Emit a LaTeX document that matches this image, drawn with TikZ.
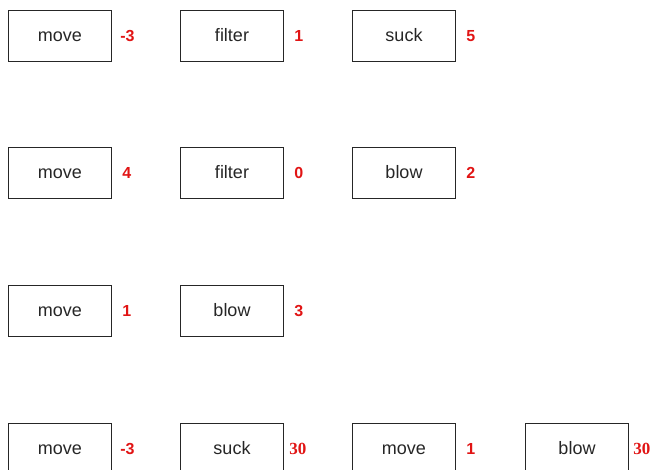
\documentclass[tikz,border=0pt]{standalone}
\usepackage{fontspec}
\setmainfont{Liberation Sans}
\newfontfamily\serifbold{Liberation Serif}
\definecolor{lblred}{RGB}{225,20,20}
\begin{document}
\begin{tikzpicture}[x=1pt,y=-1pt,
  opbox/.style={draw=black!85,line width=1.4pt,minimum width=103pt,minimum height=51pt,inner sep=0pt,text height=14pt,text depth=2.6pt,font=\fontsize{18}{18}\selectfont,text=black!85},
  val/.style={text=lblred,font=\fontsize{16}{16}\selectfont\bfseries,inner sep=0pt,anchor=base west},
  valser/.style={text=lblred,font=\fontsize{17}{17}\serifbold\bfseries,inner sep=0pt,anchor=base west}]
\useasboundingbox (0,0) rectangle (656,470);
\clip (0,0) rectangle (656,470);
% row 1
\node[opbox] (a1) at (60,36) {move};
\node[val] (va1) at ([xshift=8pt,yshift=-5.7pt]a1.east) {-3};
\node[opbox] (a2) at (232,36) {filter};
\node[val] (va2) at ([xshift=10pt,yshift=-5.7pt]a2.east) {1};
\node[opbox] (a3) at (404,36) {suck};
\node[val] (va3) at ([xshift=10pt,yshift=-5.7pt]a3.east) {5};
% row 2
\node[opbox] (b1) at (60,173) {move};
\node[val] (vb1) at ([xshift=10pt,yshift=-5.7pt]b1.east) {4};
\node[opbox] (b2) at (232,173) {filter};
\node[val] (vb2) at ([xshift=10pt,yshift=-5.7pt]b2.east) {0};
\node[opbox] (b3) at (404,173) {blow};
\node[val] (vb3) at ([xshift=10pt,yshift=-5.7pt]b3.east) {2};
% row 3
\node[opbox] (c1) at (60,311) {move};
\node[val] (vc1) at ([xshift=10pt,yshift=-5.7pt]c1.east) {1};
\node[opbox] (c2) at (232,311) {blow};
\node[val] (vc2) at ([xshift=10pt,yshift=-5.7pt]c2.east) {3};
% row 4
\node[opbox] (d1) at (60,449) {move};
\node[val] (vd1) at ([xshift=8pt,yshift=-5.7pt]d1.east) {-3};
\node[opbox] (d2) at (232,449) {suck};
\node[valser] (vd2) at ([xshift=5pt,yshift=-5.7pt]d2.east) {30};
\node[opbox] (d3) at (404,449) {move};
\node[val] (vd3) at ([xshift=10pt,yshift=-5.7pt]d3.east) {1};
\node[opbox] (d4) at (577,449) {blow};
\node[valser] (vd4) at ([xshift=4pt,yshift=-5.7pt]d4.east) {30};
\end{tikzpicture}
\end{document}
